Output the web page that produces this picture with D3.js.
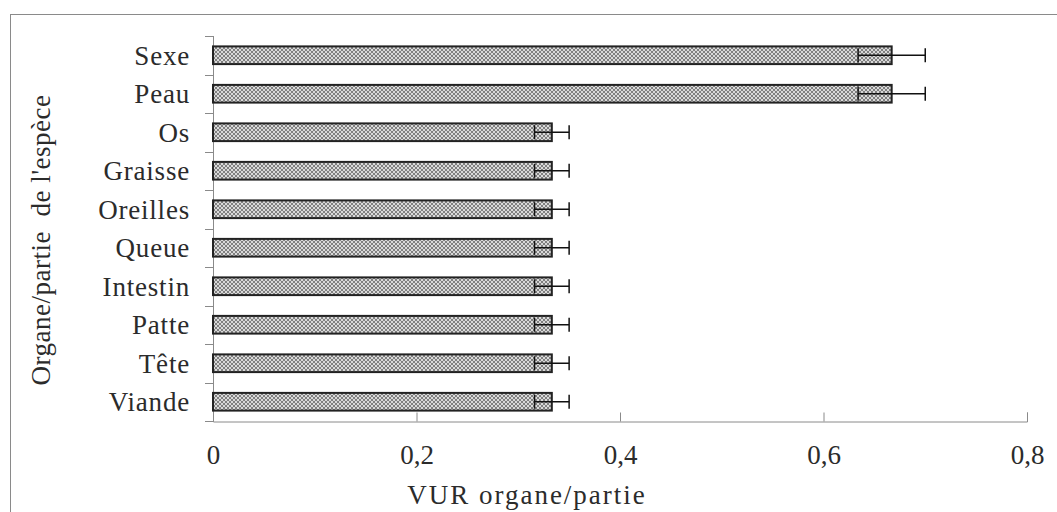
<!DOCTYPE html>
<html>
<head>
<meta charset="utf-8">
<script src="https://cdn.jsdelivr.net/npm/d3@7"></script>
<style>
  body { margin: 0; background: #fff; }
  text { font-family: "Liberation Serif", "DejaVu Serif", serif; fill: #2b2b2b; }
</style>
</head>
<body>
<svg id="chart" width="1057" height="512"></svg>
<script>
// organs, top to bottom
const organs = ['Sexe', 'Peau', 'Os', 'Graisse', 'Oreilles', 'Queue', 'Intestin', 'Patte', 'Tête', 'Viande']
const vurValues = [0.667, 0.667, 0.333, 0.333, 0.333, 0.333, 0.333, 0.333, 0.333, 0.333]
const vurErrors = [0.033, 0.033, 0.017, 0.017, 0.017, 0.017, 0.017, 0.017, 0.017, 0.017]
const xTicks = [0, 0.2, 0.4, 0.6, 0.8]

const svg = d3.select('#chart')

// outer frame (runs off the page on right and bottom)
svg.append('rect')
	.attr('x', 10.5).attr('y', 14.5)
	.attr('width', 1100).attr('height', 600)
	.attr('fill', 'none').attr('stroke', '#8a8a8a')

const defs = svg.append('defs')
const pat = defs.append('pattern')
	.attr('id', 'hatch')
	.attr('patternUnits', 'userSpaceOnUse')
	.attr('width', 4).attr('height', 4)
pat.append('rect').attr('width', 4).attr('height', 4).attr('fill', '#d9d9d9')
pat.append('path').attr('d', 'M0,0 L4,4 M4,0 L0,4')
	.attr('stroke', '#808080').attr('stroke-width', 1)

const x = d3.scaleLinear().domain([0, 0.8]).range([213, 1027])
const y = d3.scaleBand().domain(organs).range([36, 421]).paddingInner(0.54).paddingOuter(0.27)

// x axis, ticks pointing up
const xAxis = svg.append('g')
	.attr('transform', 'translate(0,421.5)')
	.call(d3.axisBottom(x).tickValues(xTicks).tickSize(-9).tickPadding(23))
xAxis.attr('font-family', null)
xAxis.select('.domain').attr('stroke', '#8a8a8a')
xAxis.selectAll('.tick line').attr('stroke', '#8a8a8a')
xAxis.selectAll('.tick text').style('font-size', '27px').attr('fill', '#2b2b2b')
	.text(d => d === 0 ? '0' : String(d).replace('.', ','))

// y axis line + boundary ticks
const bounds = d3.range(organs.length + 1).map(i => 36 + i * y.step())
svg.append('line')
	.attr('x1', 213.5).attr('x2', 213.5).attr('y1', 36).attr('y2', 421)
	.attr('stroke', '#8a8a8a')
svg.selectAll('.ytick').data(bounds).join('line')
	.attr('class', 'ytick')
	.attr('x1', 205).attr('x2', 213)
	.attr('y1', d => Math.round(d) + 0.5).attr('y2', d => Math.round(d) + 0.5)
	.attr('stroke', '#8a8a8a')

// category labels
svg.selectAll('.ylab').data(organs).join('text')
	.attr('class', 'ylab')
	.attr('x', 190)
	.attr('y', d => y(d) + y.bandwidth() / 2)
	.attr('dy', '0.35em')
	.attr('text-anchor', 'end')
	.style('font-size', '27px')
	.style('letter-spacing', '0.8px')
	.text(d => d)

// bars
svg.selectAll('.bar').data(organs).join('rect')
	.attr('class', 'bar')
	.attr('x', x(0))
	.attr('y', d => y(d))
	.attr('width', (d, i) => x(vurValues[i]) - x(0))
	.attr('height', y.bandwidth())
	.attr('fill', 'url(#hatch)')
	.attr('stroke', '#222')
	.attr('stroke-width', 2)

// error bars
const err = svg.selectAll('.err').data(organs).join('g').attr('class', 'err')
	.attr('transform', d => `translate(0,${y(d) + y.bandwidth() / 2})`)
err.append('line')
	.attr('x1', (d, i) => x(vurValues[i] - vurErrors[i]))
	.attr('x2', (d, i) => x(vurValues[i] + vurErrors[i]))
	.attr('stroke', '#111').attr('stroke-width', 1.5)
err.append('line')
	.attr('x1', (d, i) => x(vurValues[i] + vurErrors[i])).attr('x2', (d, i) => x(vurValues[i] + vurErrors[i]))
	.attr('y1', -7).attr('y2', 7)
	.attr('stroke', '#111').attr('stroke-width', 1.5)
err.append('line')
	.attr('x1', (d, i) => x(vurValues[i] - vurErrors[i])).attr('x2', (d, i) => x(vurValues[i] - vurErrors[i]))
	.attr('y1', -7).attr('y2', 7)
	.attr('stroke', '#111').attr('stroke-width', 1.5)

// axis titles
svg.append('text')
	.attr('x', 527).attr('y', 504)
	.attr('text-anchor', 'middle')
	.style('font-size', '27px')
	.style('letter-spacing', '2px')
	.text('VUR organe/partie')

svg.append('text')
	.attr('transform', 'translate(50,240) rotate(-90)')
	.attr('text-anchor', 'middle')
	.style('font-size', '27px')
	.style('letter-spacing', '0.5px')
	.style('white-space', 'pre')
	.text("Organe/partie  de l'espèce")
</script>
</body>
</html>
